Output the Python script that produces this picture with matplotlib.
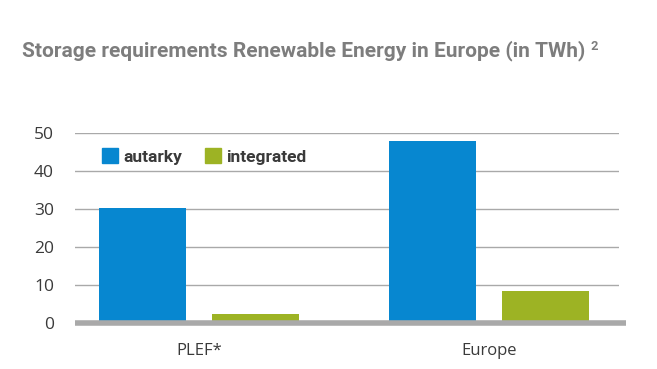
import numpy as np
import matplotlib.pyplot as plt
from matplotlib.patches import Patch

# data (TWh)
categories = ["PLEF*", "Europe"]
series_names = ["autarky", "integrated"]
autarky = [30.2, 47.9]
integrated = [2.4, 8.5]
y_ticks = [0, 10, 20, 30, 40, 50]

BLUE = "#0787d0"
GREEN = "#9db324"
GRID = "#a9a9a9"
TEXT = "#3a3a3a"
TITLE = "#7d7d7d"
COND = ["Roboto", "DejaVu Sans"]

fig = plt.figure(figsize=(6.57, 3.69), dpi=100)
ax = fig.add_axes([0.114, 0.124, 0.828, 0.515])

x = np.arange(len(categories))
w = 0.303
off = 0.195
ax.bar(x - off, autarky, w, color=BLUE, zorder=2)
ax.bar(x + off, integrated, w, color=GREEN, zorder=2)

ax.set_xlim(-0.428, 1.448)
ax.set_ylim(0, 50)
ax.set_yticks(y_ticks)
ax.set_yticklabels([str(t) for t in y_ticks], fontsize=12.5, color=TEXT,
                   family="Open Sans")
ax.set_xticks(x)
ax.set_xticklabels(categories, fontsize=12, color=TEXT, family="Open Sans")
ax.tick_params(axis="y", length=0, pad=15)
ax.tick_params(axis="x", length=0, pad=14)

for t in y_ticks[1:]:
    ax.axhline(t, color=GRID, lw=1.0, zorder=1)
ax.plot([-0.428, 1.472], [0, 0], color=GRID, lw=4, zorder=3,
        clip_on=False, solid_capstyle="butt")

for s in ax.spines.values():
    s.set_visible(False)

handles = [Patch(color=BLUE), Patch(color=GREEN)]
leg = ax.legend(handles, series_names, loc="upper left",
                bbox_to_anchor=(0.027, 0.985), ncol=2, frameon=False,
                handlelength=0.95, handleheight=0.95, handletextpad=0.3,
                columnspacing=1.3, borderaxespad=0.3,
                prop={"family": COND, "weight": "bold", "size": 12.5})
for t in leg.get_texts():
    t.set_color(TEXT)

# title: shrink until it spans the same width as in the reference
title = fig.text(22 / 657, 1 - 56 / 369,
                 "Storage requirements Renewable Energy in Europe (in TWh)",
                 fontsize=16, fontweight="bold", color=TITLE,
                 family=COND, va="baseline")
r = fig.canvas.get_renderer()
size = 16
while title.get_window_extent(r).width > 566 and size > 8:
    size -= 0.25
    title.set_fontsize(size)
bb = title.get_window_extent(r)
fig.text((bb.x1 + 5) / 657, 1 - 50 / 369, "2", fontsize=size * 0.62,
         fontweight="bold", color=TITLE, family=COND, va="baseline")

fig.savefig("out.png", dpi=100)
